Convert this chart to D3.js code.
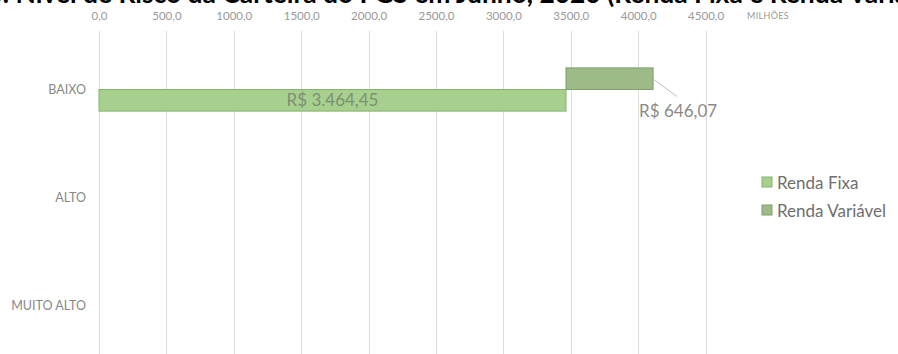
<!DOCTYPE html>
<html>
  <head>
    <meta charset='utf-8'>
    <style>
      body { margin: 0; background: #fff; }
      text { font-family: Lato, "Open Sans", sans-serif; }
    </style>
  </head>
  <body>
    <script src="https://cdn.jsdelivr.net/npm/d3@7"></script>
    <script type="text/javascript">

      // --------------------------- data --------------------------
      var categories = ["BAIXO", "ALTO", "MUITO ALTO"];
      var rendaFixa = [3464.45, 0, 0];
      var rendaVariavel = [646.07, 0, 0];
      var xTicks = [0, 500, 1000, 1500, 2000, 2500, 3000, 3500, 4000, 4500];
      var seriesNames = ["Renda Fixa", "Renda Variável"];
      var title = "Distribuição: Nível de Risco da Carteira do FGS em Junho, 2020 (Renda Fixa e Renda Variável)";

      var width = 898, height = 354;
      var colors = {fixa: "#a7cf8d", fixaStroke: "#86b36c", vari: "#9dbb89", variStroke: "#7e9e6c"};

      var svg = d3.select("body").append("svg")
        .attr("width", width)
        .attr("height", height);

      // scales
      var x = d3.scaleLinear().domain([0, 4500]).range([99, 705.6]);
      var y = d3.scaleBand().domain(categories).range([35.5, 359.5]);
      var barH = y.bandwidth() * 0.2;

      // title (clipped at top, like the original)
      var t = svg.append("text")
        .attr("y", 3)
        .attr("font-size", 26)
        .attr("font-weight", "bold")
        .attr("fill", "#000")
        .text(title);
      var node = t.node();
      var i0 = title.indexOf("(");
      var i1 = title.indexOf("á");
      var a = node.getSubStringLength(0, i0);
      var b = node.getSubStringLength(0, i1);
      // "(" sits near x=607, "á" near the right edge
      var k = (895 - 607) / (b - a);
      t.attr("font-size", 26 * k);
      a = node.getSubStringLength(0, i0);
      t.attr("x", 607 - a);

      // gridlines
      svg.append("g").selectAll("line")
        .data(xTicks).enter()
        .append("line")
        .attr("x1", function(d){ return Math.round(x(d)) + 0.5; })
        .attr("x2", function(d){ return Math.round(x(d)) + 0.5; })
        .attr("y1", 31)
        .attr("y2", height)
        .attr("stroke", "#dcdcdc")
        .attr("stroke-width", 1);

      // top axis
      var xAxis = d3.axisTop(x)
        .tickValues(xTicks)
        .tickSize(0)
        .tickPadding(0)
        .tickFormat(function(d){ return d.toFixed(1).replace(".", ","); });

      var gx = svg.append("g")
        .attr("transform", "translate(0,20)")
        .call(xAxis);
      gx.select(".domain").remove();
      gx.selectAll("text")
        .attr("font-family", "Lato, sans-serif")
        .attr("font-size", 11.5)
        .attr("fill", "#999");

      svg.append("text")
        .attr("x", 768)
        .attr("y", 19)
        .attr("text-anchor", "middle")
        .attr("font-size", 9)
        .attr("letter-spacing", 0.3)
        .attr("fill", "#999")
        .text("MILHÕES");

      // left axis
      var yAxis = d3.axisLeft(y).tickSize(0).tickPadding(0);
      var gy = svg.append("g")
        .attr("transform", "translate(86,0)")
        .call(yAxis);
      gy.select(".domain").remove();
      gy.selectAll("text")
        .attr("font-family", "Lato, sans-serif")
        .attr("font-size", 12.5)
        .attr("fill", "#888");

      // bars
      var rows = categories.map(function(c, i){
        return {cat: c, fixa: rendaFixa[i], vari: rendaVariavel[i]};
      });

      var mid = function(d){ return y(d.cat) + y.bandwidth() / 2; };

      svg.append("g").selectAll("rect")
        .data(rows.filter(function(d){ return d.fixa > 0; })).enter()
        .append("rect")
        .attr("x", x(0))
        .attr("y", mid)
        .attr("width", function(d){ return x(d.fixa) - x(0); })
        .attr("height", barH)
        .attr("fill", colors.fixa)
        .attr("stroke", colors.fixaStroke);

      svg.append("g").selectAll("rect")
        .data(rows.filter(function(d){ return d.vari > 0; })).enter()
        .append("rect")
        .attr("x", function(d){ return x(d.fixa); })
        .attr("y", function(d){ return mid(d) - barH; })
        .attr("width", function(d){ return x(d.fixa + d.vari) - x(d.fixa); })
        .attr("height", barH)
        .attr("fill", colors.vari)
        .attr("stroke", colors.variStroke);

      var fmt = function(v){
        var s = v.toFixed(2).split(".");
        return "R$ " + s[0].replace(/\B(?=(\d{3})+(?!\d))/g, ".") + "," + s[1];
      };

      // labels
      rows.filter(function(d){ return d.fixa > 0; }).forEach(function(d){
        svg.append("text")
          .attr("x", (x(0) + x(d.fixa)) / 2)
          .attr("y", mid(d) + barH / 2 + 6)
          .attr("text-anchor", "middle")
          .attr("font-size", 17)
          .attr("fill", "#7d8f74")
          .text(fmt(d.fixa));
      });

      rows.filter(function(d){ return d.vari > 0; }).forEach(function(d){
        var xe = x(d.fixa + d.vari);
        svg.append("line")
          .attr("x1", xe + 1)
          .attr("y1", mid(d) - barH * 0.45)
          .attr("x2", xe + 24)
          .attr("y2", mid(d) + 7)
          .attr("stroke", "#bfbfbf");
        svg.append("text")
          .attr("x", xe - 14)
          .attr("y", mid(d) + 27)
          .attr("font-size", 17)
          .attr("fill", "#8a8a8a")
          .text(fmt(d.vari));
      });

      // legend
      var leg = svg.append("g").attr("transform", "translate(762,177)");
      seriesNames.forEach(function(n, i){
        var g = leg.append("g").attr("transform", "translate(0," + (i * 28) + ")");
        g.append("rect")
          .attr("width", 10).attr("height", 10)
          .attr("fill", i == 0 ? colors.fixa : colors.vari)
          .attr("stroke", i == 0 ? colors.fixaStroke : colors.variStroke);
        g.append("text")
          .attr("x", 15)
          .attr("y", 11.5)
          .attr("font-size", 17)
          .attr("fill", "#6f6f6f")
          .text(n);
      });

    </script>
  </body>
</html>
